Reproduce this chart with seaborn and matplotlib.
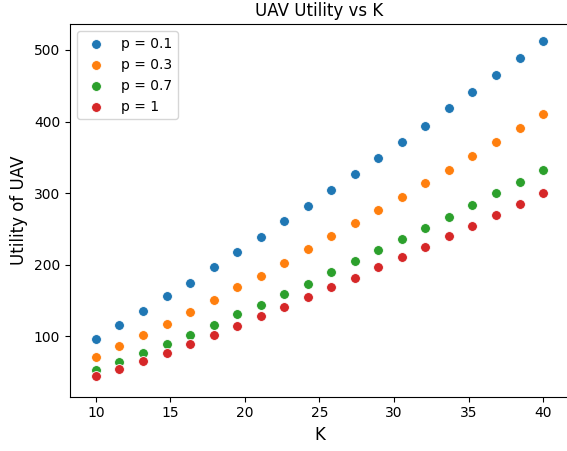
import matplotlib
matplotlib.use("Agg")
import matplotlib.pyplot as plt
import seaborn as sns
import pandas as pd

K = [10.0, 11.58, 13.16, 14.74, 16.32, 17.89, 19.47, 21.05, 22.63, 24.21,
     25.79, 27.37, 28.95, 30.53, 32.11, 33.68, 35.26, 36.84, 38.42, 40.0]
u_p01 = [96.4, 116.3, 135.8, 155.5, 175.0, 196.2, 217.7, 238.0, 261.0, 281.9,
         304.0, 326.9, 348.5, 372.0, 394.3, 418.5, 441.0, 465.0, 488.3, 512.8]
u_p03 = [70.7, 86.0, 101.9, 117.7, 134.0, 151.2, 168.3, 184.7, 202.8, 221.3,
         239.5, 258.2, 276.2, 294.8, 314.0, 332.5, 352.5, 371.5, 391.5, 411.0]
u_p07 = [52.2, 64.3, 76.8, 89.4, 101.4, 115.9, 130.3, 144.2, 159.6, 173.5,
         189.3, 204.6, 219.9, 235.3, 250.6, 266.5, 283.3, 300.0, 315.8, 332.5]
u_p1 = [44.2, 54.5, 65.7, 76.8, 89.4, 101.9, 114.5, 127.5, 140.2, 154.4,
        168.3, 182.0, 196.2, 210.2, 224.1, 240.0, 254.0, 269.3, 284.7, 300.0]
series_labels = ["p = 0.1", "p = 0.3", "p = 0.7", "p = 1"]
series_values = [u_p01, u_p03, u_p07, u_p1]
colors = ["#1f77b4", "#ff7f0e", "#2ca02c", "#d62728"]

W, H = 567, 451
fig = plt.figure(figsize=(W / 100, H / 100), dpi=100)
left, right, top, bottom = 70, 569, 24.3, 396.7
ax = fig.add_axes([left / W, (H - bottom) / H, (right - left) / W, (bottom - top) / H])

for lab, vals, c in zip(series_labels, series_values, colors):
    df = pd.DataFrame({"K": K, "U": vals})
    sns.scatterplot(data=df, x="K", y="U", ax=ax, color=c, label=lab, s=50,
                    edgecolor="white", linewidth=0.6)

ax.set_xlim(8.26, 41.74)
ax.set_ylim(15.4, 535.9)
ax.spines["right"].set_visible(False)
ax.set_xlabel("K", fontsize=12)
ax.set_ylabel("Utility of UAV", fontsize=12)
ax.set_title("UAV Utility vs K", fontsize=12)
ax.set_xticks([10, 15, 20, 25, 30, 35, 40])
ax.set_yticks([100, 200, 300, 400, 500])
ax.legend(loc="upper left", fontsize=10)

fig.savefig("out.png", dpi=100)
